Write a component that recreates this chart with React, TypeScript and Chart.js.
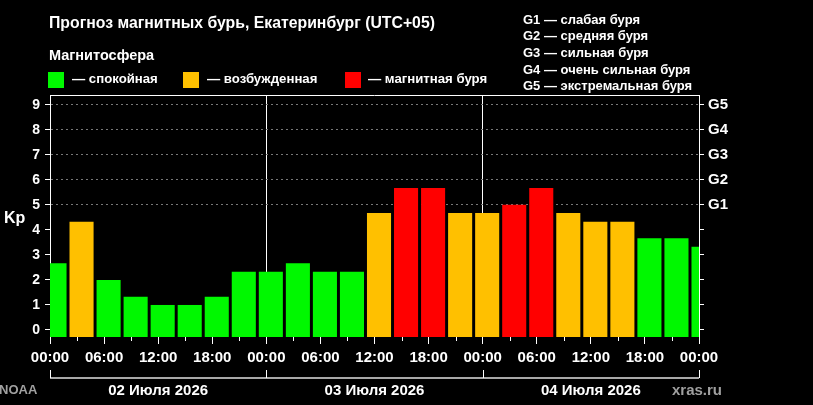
import { Chart, registerables } from "chart.js";
import { useEffect, useRef } from "react";

Chart.register(...registerables);

// 3-hour NOAA slots, shifted to local time (UTC+05); hours counted from 02 Jul 00:00
const SLOT_START_HOURS = [-1, 2, 5, 8, 11, 14, 17, 20, 23, 26, 29, 32, 35, 38, 41, 44, 47, 50, 53, 56, 59, 62, 65, 68, 71];
const KP_VALUES = [2.67, 4.33, 2.0, 1.33, 1.0, 1.0, 1.33, 2.33, 2.33, 2.67, 2.33, 2.33, 4.67, 5.67, 5.67, 4.67, 4.67, 5.0, 5.67, 4.67, 4.33, 4.33, 3.67, 3.67, 3.33];
const SLOT_LENGTH = 3;

const X_TICK_HOURS = [0, 6, 12, 18, 24, 30, 36, 42, 48, 54, 60, 66, 72];
const X_TICK_LABELS = ["00:00", "06:00", "12:00", "18:00", "00:00", "06:00", "12:00", "18:00", "00:00", "06:00", "12:00", "18:00", "00:00"];
const MINOR_TICK_HOURS = [3, 9, 15, 21, 27, 33, 39, 45, 51, 57, 63, 69];
const DAY_BOUNDARY_HOURS = [0, 24, 48, 72];
const DAY_CENTER_HOURS = [12, 36, 60];
const DAY_LABELS = ["02 Июля 2026", "03 Июля 2026", "04 Июля 2026"];

const KP_TICKS = [0, 1, 2, 3, 4, 5, 6, 7, 8, 9];
const G_LEVELS = [5, 6, 7, 8, 9];
const G_LABELS = ["G1", "G2", "G3", "G4", "G5"];
const G_DESCRIPTIONS = ["G1 — слабая буря", "G2 — средняя буря", "G3 — сильная буря", "G4 — очень сильная буря", "G5 — экстремальная буря"];

const Y_MIN = -0.28;
const Y_MAX = 9.39;

const GREEN = "#00f800";
const ORANGE = "#ffc000";
const RED = "#ff0000";
const FONT = "'Liberation Sans', Arial, sans-serif";

function kpColor(kp: number) {
  if (kp >= 5) return RED;
  if (kp >= 4) return ORANGE;
  return GREEN;
}

const framePlugin = {
  id: "frame",
  afterDraw(chart: any) {
    const { ctx, chartArea } = chart;
    const x = chart.scales.x;
    ctx.save();
    ctx.strokeStyle = "#fff";
    ctx.lineWidth = 1;
    ctx.beginPath();
    ctx.moveTo(chartArea.left, chartArea.top + 0.5);
    ctx.lineTo(chartArea.right, chartArea.top + 0.5);
    MINOR_TICK_HOURS.forEach((h) => {
      const px = Math.round(x.getPixelForValue(h)) + 0.5;
      ctx.moveTo(px, chartArea.bottom);
      ctx.lineTo(px, chartArea.bottom + 4);
    });
    ctx.stroke();

    const by = chartArea.bottom + 41;
    ctx.strokeStyle = "#a8a8a8";
    ctx.lineWidth = 2;
    ctx.beginPath();
    ctx.moveTo(x.getPixelForValue(0), by);
    ctx.lineTo(x.getPixelForValue(72), by);
    ctx.stroke();
    ctx.strokeStyle = "#fff";
    ctx.lineWidth = 1;
    ctx.beginPath();
    DAY_BOUNDARY_HOURS.forEach((h) => {
      const px = Math.round(x.getPixelForValue(h)) + 0.5;
      ctx.moveTo(px, by - 8);
      ctx.lineTo(px, by);
    });
    ctx.stroke();
    ctx.restore();
  },
};

function KpChart() {
  const chartRef = useRef<HTMLCanvasElement | null>(null);
  const chartInstance = useRef<Chart | null>(null);

  useEffect(() => {
    if (!chartRef.current) return;
    const tickFont = { family: FONT, size: 15, weight: "bold" as const };
    chartInstance.current = new Chart(chartRef.current, {
      type: "bar",
      data: {
        datasets: [
          {
            data: KP_VALUES.map((v, i) => ({ x: SLOT_START_HOURS[i] + SLOT_LENGTH / 2, y: v })),
            backgroundColor: KP_VALUES.map(kpColor),
            borderWidth: 0,
            base: Y_MIN,
            barPercentage: 0.89,
            categoryPercentage: 1,
          } as any,
        ],
      },
      options: {
        animation: false,
        responsive: false,
        maintainAspectRatio: false,
        layout: { padding: { top: 95, left: 0, right: 0, bottom: 0 } },
        plugins: { legend: { display: false }, tooltip: { enabled: false } },
        scales: {
          x: {
            type: "linear",
            position: "bottom",
            min: 0,
            max: 72,
            offset: false,
            weight: 0,
            afterBuildTicks: (s: any) => {
              s.ticks = X_TICK_HOURS.map((v) => ({ value: v }));
            },
            afterFit: (s: any) => {
              s.height = 30;
            },
            ticks: {
              callback: (_v: any, i: number) => X_TICK_LABELS[i],
              color: "#fff",
              font: tickFont,
              padding: 5,
              autoSkip: false,
              maxRotation: 0,
            },
            grid: {
              offset: false,
              color: (c: any) => (c.tick && (c.tick.value === 24 || c.tick.value === 48) ? "#fff" : "rgba(0,0,0,0)"),
              tickColor: "#fff",
              tickLength: 7,
            },
            border: { display: false },
          },
          days: {
            type: "linear",
            position: "bottom",
            min: 0,
            max: 72,
            offset: false,
            weight: 1,
            afterBuildTicks: (s: any) => {
              s.ticks = DAY_CENTER_HOURS.map((v) => ({ value: v }));
            },
            afterFit: (s: any) => {
              s.height = 38;
            },
            ticks: {
              callback: (_v: any, i: number) => DAY_LABELS[i],
              color: "#fff",
              font: tickFont,
              padding: 15,
              autoSkip: false,
              maxRotation: 0,
            },
            grid: { display: false, drawTicks: false },
            border: { display: false },
          },
          y: {
            type: "linear",
            position: "left",
            min: Y_MIN,
            max: Y_MAX,
            afterBuildTicks: (s: any) => {
              s.ticks = KP_TICKS.map((v) => ({ value: v }));
            },
            afterFit: (s: any) => {
              s.width = 50;
            },
            ticks: { color: "#fff", font: { family: FONT, size: 14, weight: "bold" }, padding: 5 },
            grid: {
              color: (c: any) => (c.tick && c.tick.value >= 5 ? "#787878" : "rgba(0,0,0,0)"),
              lineWidth: 1,
              tickColor: "#fff",
              tickLength: 5,
            },
            border: { color: "#fff", dash: [2, 3] },
          },
          g: {
            type: "linear",
            position: "right",
            min: Y_MIN,
            max: Y_MAX,
            afterBuildTicks: (s: any) => {
              s.ticks = KP_TICKS.map((v) => ({ value: v }));
            },
            afterFit: (s: any) => {
              s.width = 114;
            },
            ticks: {
              callback: (v: any) => {
                const idx = G_LEVELS.indexOf(Number(v));
                return idx >= 0 ? G_LABELS[idx] : "";
              },
              color: "#fff",
              font: tickFont,
              padding: 4,
            },
            grid: { drawOnChartArea: false, tickColor: "#fff", tickLength: 5 },
            border: { color: "#fff" },
          },
        },
      },
      plugins: [framePlugin],
    } as any);
    return () => {
      if (chartInstance.current) {
        chartInstance.current.destroy();
        chartInstance.current = null;
      }
    };
  }, []);

  return <canvas ref={chartRef} width={813} height={405} style={{ position: "absolute", left: 0, top: 0 }} />;
}

const textBase = { position: "absolute" as const, fontFamily: FONT, fontWeight: "bold" as const, color: "#fff", whiteSpace: "nowrap" as const };

export default function App() {
  const legendItems = [
    { color: GREEN, label: "— спокойная", box: 48, text: 72 },
    { color: ORANGE, label: "— возбужденная", box: 183, text: 207 },
    { color: RED, label: "— магнитная буря", box: 345, text: 368 },
  ];
  return (
    <div style={{ position: "fixed", left: 0, top: 0, width: 813, height: 405, background: "#000", overflow: "hidden" }}>
      <KpChart />
      <div style={{ ...textBase, left: 49, top: 15, fontSize: 15.8, lineHeight: "16px" }}>
        Прогноз магнитных бурь, Екатеринбург (UTC+05)
      </div>
      <div style={{ ...textBase, left: 49, top: 47.5, fontSize: 14.5, lineHeight: "14.5px" }}>Магнитосфера</div>
      {legendItems.map((it) => (
        <div key={it.label}>
          <div style={{ position: "absolute", left: it.box, top: 71.5, width: 16, height: 16, background: it.color }} />
          <div style={{ ...textBase, left: it.text, top: 72, fontSize: 13.2, lineHeight: "13.2px" }}>{it.label}</div>
        </div>
      ))}
      <div style={{ ...textBase, left: 523, top: 11.5, fontSize: 13, lineHeight: "16.67px" }}>
        {G_DESCRIPTIONS.map((d) => (
          <div key={d}>{d}</div>
        ))}
      </div>
      <div style={{ ...textBase, left: 4, top: 209.5, fontSize: 16, lineHeight: "16px" }}>Kp</div>
      <div style={{ ...textBase, left: -1, top: 383, fontSize: 13, lineHeight: "13px", color: "#a0a0a0" }}>NOAA</div>
      <div style={{ ...textBase, left: 672, top: 381.5, fontSize: 15, lineHeight: "15px", color: "#a0a0a0" }}>xras.ru</div>
    </div>
  );
}
